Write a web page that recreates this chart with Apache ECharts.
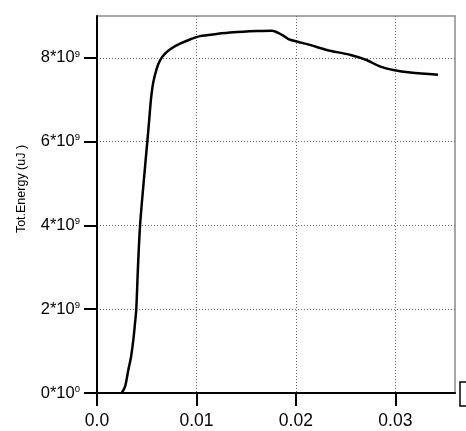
<!DOCTYPE html>
<html><head><meta charset="utf-8">
<script src="https://cdn.jsdelivr.net/npm/echarts@6/dist/echarts.min.js"></script>
<style>html,body{margin:0;padding:0;background:#fff}#c{width:466px;height:431px}</style>
</head><body><div id="c"></div>
<script>
var timeVals = [0.00248, 0.00282, 0.00315, 0.00342, 0.00365, 0.00382, 0.00395, 0.00412, 0.00433, 0.00468, 0.00506, 0.00526, 0.00543, 0.00566, 0.00600, 0.00634, 0.00684, 0.00751, 0.00835, 0.00936, 0.01036, 0.0120, 0.0137, 0.0161, 0.0176, 0.0186, 0.01925, 0.0201, 0.0214, 0.0231, 0.0255, 0.0271, 0.0285, 0.0298, 0.0315, 0.0343];
var energyVals = [0, 0.15e9, 0.55e9, 0.86e9, 1.26e9, 1.66e9, 2.0e9, 3.0e9, 4.0e9, 5.0e9, 6.0e9, 6.55e9, 7.02e9, 7.42e9, 7.74e9, 7.94e9, 8.10e9, 8.23e9, 8.34e9, 8.44e9, 8.52e9, 8.57e9, 8.61e9, 8.64e9, 8.65e9, 8.55e9, 8.45e9, 8.39e9, 8.31e9, 8.19e9, 8.07e9, 7.95e9, 7.79e9, 7.71e9, 7.65e9, 7.60e9];
var xTicks = [0, 0.01, 0.02, 0.03];
var xTickLabels = ['0.0', '0.01', '0.02', '0.03'];
var yTicks = [0, 2e9, 4e9, 6e9, 8e9];
var yTickLabels = ['0*10{s|0}', '2*10{s|9}', '4*10{s|9}', '6*10{s|9}', '8*10{s|9}'];
var yName = 'Tot.Energy (uJ )';

var data = timeVals.map(function(t, i){ return [t, energyVals[i]]; });
var chart = echarts.init(document.getElementById('c'));
var font = 'Liberation Sans, Arial, sans-serif';
chart.setOption({
  animation: false,
  grid: {left: 97, right: 11, top: 16, bottom: 38, show: true, borderColor: '#8a8a8a', borderWidth: 1.5, backgroundColor: 'transparent'},
  xAxis: {
    type: 'value', min: 0, max: 0.036, interval: 0.01,
    axisLine: {show: true, lineStyle: {color: '#000', width: 2}},
    axisTick: {show: true, length: 13, lineStyle: {color: '#000', width: 2}, customValues: xTicks},
    axisLabel: {margin: 19, fontSize: 17.5, color: '#000', fontFamily: font, customValues: xTicks,
      formatter: function(v){ var i = xTicks.findIndex(function(t){return Math.abs(t-v)<1e-9;}); return i>=0 ? xTickLabels[i] : ''; }},
    splitLine: {show: true, lineStyle: {color: '#666', width: 1, type: [1, 2]}}
  },
  yAxis: {
    type: 'value', min: 0, max: 9e9, interval: 2e9,
    axisLine: {show: true, lineStyle: {color: '#000', width: 2}},
    axisTick: {show: true, length: 13, lineStyle: {color: '#000', width: 2}, customValues: yTicks},
    axisLabel: {margin: 17, fontSize: 16.5, color: '#000', fontFamily: font, customValues: yTicks,
      formatter: function(v){ var i = yTicks.findIndex(function(t){return Math.abs(t-v)<1;}); return i>=0 ? yTickLabels[i] : ''; },
      rich: {s: {fontSize: 9.5, color: '#000', fontFamily: font, verticalAlign: 'top', padding: [0,0,8,0]}}},
    splitLine: {show: true, lineStyle: {color: '#666', width: 1, type: [1, 2]}}
  },
  graphic: [
    {type: 'rect', shape: {x: 460, y: 382, width: 30, height: 24}, style: {fill: 'none', stroke: '#000', lineWidth: 1.5}},
    {type: 'text', x: 21.5, y: 189, rotation: Math.PI / 2, style: {text: yName, fontSize: 12.5, fontFamily: font, fill: '#000', align: 'center', verticalAlign: 'middle'}}
  ],
  series: [{type: 'line', data: data, smooth: 0.3, showSymbol: false, lineStyle: {color: '#000', width: 2.5}}]
});
</script></body></html>
